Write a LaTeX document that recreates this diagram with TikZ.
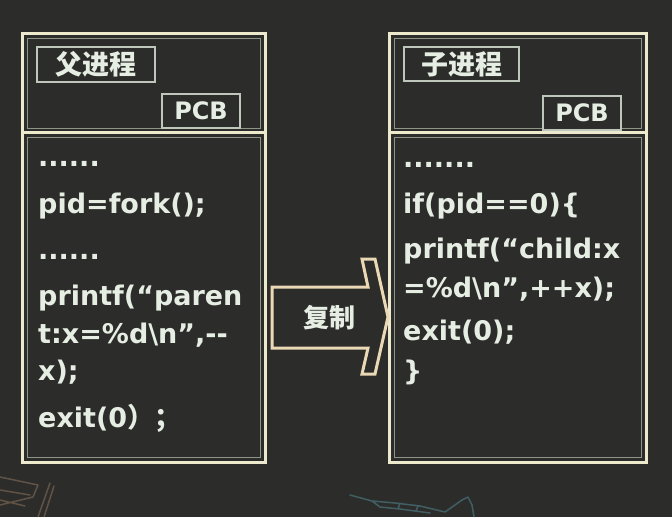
\documentclass[tikz,border=0pt]{standalone}
\usepackage{fontspec}
\newfontfamily\codefont{DejaVu Sans}
\newfontfamily\cjk{Noto Sans CJK SC}
\definecolor{bg}{HTML}{2C2D2B}
\definecolor{cream}{HTML}{ECE9CC}
\definecolor{innergrey}{HTML}{8E948A}
\definecolor{lbl}{HTML}{BFC7BD}
\definecolor{txt}{HTML}{E6EEE4}
\definecolor{arrowcream}{HTML}{EAD9B4}
\definecolor{chalkorange}{HTML}{B08C70}
\definecolor{chalkblue}{HTML}{5FA8B8}
\begin{document}
\begin{tikzpicture}[x=1pt,y=-1pt,
  outerframe/.style={draw=cream, line width=3pt},
  innerframe/.style={draw=innergrey, line width=1pt},
  labelbox/.style={draw=lbl, line width=1.5pt, fill=bg, inner sep=0pt, text=txt},
  codeline/.style={anchor=base west, inner sep=0pt, text=txt, font=\codefont\bfseries\fontsize{27}{30}\selectfont},
  cjklabel/.style={font=\cjk\bfseries\fontsize{27}{30}\selectfont},
  pcblabel/.style={font=\codefont\bfseries\fontsize{24}{28}\selectfont},
  chalk/.style={line width=1.5pt, opacity=0.4, line cap=round, line join=round}]
\fill[bg] (0,0) rectangle (672,517);
\useasboundingbox (0,0) rectangle (672,517);

% chalk sketches
\draw[chalk, chalkorange] (0,477) -- (38,485) (0,490) -- (30,495) (0,500) -- (25,506)
  (38,485) -- (33,497) -- (0,505) (50,483) -- (38,517) (54,486) -- (44,517);
\draw[chalk, chalkblue] (350,495) -- (372,501) -- (395,503) -- (420,506) -- (445,512)
  (372,501) -- (380,507) -- (400,509) -- (430,513) (400,503) -- (398,509) (418,506) -- (416,511)
  (445,512) -- (462,500) -- (468,497) -- (472,505) -- (474,517);

% left process
\draw[outerframe] (22,33) rectangle (265,462);
\draw[outerframe] (22,132) -- (265,132);
\draw[innerframe] (27,38) rectangle (260,128);
\draw[innerframe] (27,137) rectangle (260,457);
\node[labelbox, cjklabel, minimum width=118pt, minimum height=35pt] (parentlbl) at (96,64.5) {父进程};
\node[labelbox, pcblabel, minimum width=78pt, minimum height=34pt] (parentpcb) at (201,111) {PCB};

\node[codeline] (p1) at (38,166) {......};
\node[codeline] (p2) at (38,213) {pid=fork();};
\node[codeline] (p3) at (38,259) {......};
\node[codeline] (p4) at (38,305) {printf(“paren};
\node[codeline] (p5) at (38,343) {t:x=\%d\textbackslash n”,-{}-};
\node[codeline] (p6) at (38,380) {x);};
\node[codeline] (p7) at (38,427) {exit(0{\cjk\bfseries ）；}};

% right process
\draw[outerframe] (389,33) rectangle (646,462);
\draw[outerframe] (389,132) -- (646,132);
\draw[innerframe] (394,38) rectangle (641,128);
\draw[innerframe] (394,137) rectangle (641,457);
\node[labelbox, cjklabel, minimum width=115pt, minimum height=34pt] (childlbl) at (461.5,64) {子进程};
\node[labelbox, pcblabel, minimum width=78pt, minimum height=34pt] (childpcb) at (582,113) {PCB};

\node[codeline] (c1) at (403,167) {.......};
\node[codeline] (c2) at (403,213) {if(pid==0)\{};
\node[codeline] (c3) at (403,258) {printf(“child:x};
\node[codeline] (c4) at (403,297) {=\%d\textbackslash n”,++x);};
\node[codeline] (c5) at (403,340) {exit(0);};
\node[codeline] (c6) at (403,380) {\}};

% copy arrow
\draw[arrowcream, line width=3pt, fill=bg, line join=miter]
  (272,287) -- (368,287) -- (362,259) -- (375,259) -- (388,317) -- (375,374)
  -- (362,374) -- (368,348) -- (272,348) -- cycle;
\node[cjklabel, text=txt, font=\cjk\bfseries\fontsize{26}{30}\selectfont] (copylbl) at (329,318) {复制};
\end{tikzpicture}
\end{document}
